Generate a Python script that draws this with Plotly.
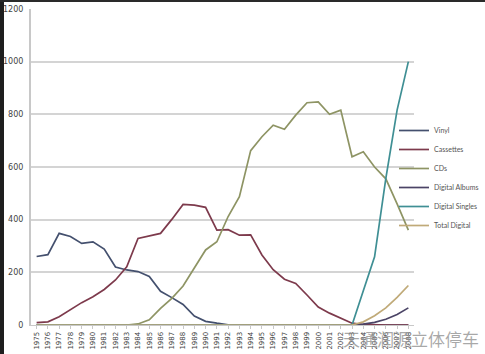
import plotly.graph_objects as go

years = [str(y) for y in range(1975, 2009)]

vinyl = [260, 267, 348, 336, 310, 316, 288, 220, 209, 203, 184, 128, 104, 78, 34, 14, 7, 1,
         0, 0, 0, 0, 0, 0, 0, 0, 0, 0, 0, 0, 0, 0, 0, 0]
cassettes = [9, 12, 31, 57, 85, 107, 135, 171, 221, 329, 339, 348, 401, 458, 455, 447, 360, 362,
             341, 342, 266, 210, 174, 158, 114, 68, 45, 26, 7, 2, 0, 0, 0, 0]
cds = [0, 0, 0, 0, 0, 0, 0, 0, 0, 4, 20, 63, 101, 148, 215, 285, 316, 412,
       487, 662, 715, 759, 743, 797, 844, 847, 800, 816, 639, 658, 600, 555, 460, 360]
digital_albums = [0] * 29 + [3, 10, 22, 40, 65]
digital_singles = [0] * 29 + [130, 259, 557, 816, 1000]
total_digital = [0] * 29 + [12, 35, 65, 105, 150]

series = [
    ("Vinyl", vinyl, "#44506e"),
    ("Cassettes", cassettes, "#7d3a4c"),
    ("CDs", cds, "#8e9464"),
    ("Digital Albums", digital_albums, "#4b4466"),
    ("Digital Singles", digital_singles, "#3f8f94"),
    ("Total Digital", total_digital, "#c0aa78"),
]

fig = go.Figure()
for name, vals, col in series:
    fig.add_trace(go.Scatter(x=years, y=vals, mode="lines", name=name,
                             line=dict(color=col, width=1.7)))

L, R, T, B = 31, 71, 9, 29
W, H = 485, 354
pw = W - L - R
ph = H - T - B

fig.update_layout(
    width=W, height=H,
    margin=dict(l=L, r=R, t=T, b=B, autoexpand=False),
    paper_bgcolor="white", plot_bgcolor="white",
    font=dict(family="DejaVu Sans, Arial", color="#444", size=8),
    showlegend=True,
    legend=dict(xref="container", yref="container", x=394 / W, y=1 - 178 / H,
                xanchor="left", yanchor="middle",
                font=dict(family="Lato", size=7, color="#555"), bgcolor="rgba(0,0,0,0)",
                tracegroupgap=0),
    xaxis=dict(type="category", range=[-0.5, 33.5], tickangle=-90,
               tickfont=dict(size=7, color="#444"), showgrid=False,
               showline=True, linecolor="#c8c8c8", linewidth=1,
               ticks="outside", ticklen=3, tickcolor="#c8c8c8", automargin=False),
    yaxis=dict(range=[0, 1200], dtick=200, showgrid=True, gridcolor="#d4d4d4", gridwidth=2,
               showline=True, linecolor="#c8c8c8", linewidth=2, zeroline=False,
               tickfont=dict(size=8, color="#444"), ticks="", ticklabelstandoff=4,
               automargin=False),
    shapes=[
        dict(type="rect", xref="paper", yref="paper", x0=-L / pw, x1=(4 - L) / pw,
             y0=-B / ph, y1=1 + T / ph, fillcolor="#1e1e1e", line=dict(width=0), layer="above"),
        dict(type="rect", xref="paper", yref="paper", x0=-L / pw, x1=1 + R / pw,
             y0=1 + (T - 2) / ph, y1=1 + T / ph, fillcolor="#2a2a2a", line=dict(width=0), layer="above"),
    ],
    annotations=[
        dict(text="天通润源立体停车", xref="paper", yref="paper",
             x=(481 - L) / pw, y=-(338 - 325) / ph, xanchor="right", yanchor="middle",
             showarrow=False, font=dict(family="Noto Sans CJK SC", size=17,
                                        color="rgba(140,140,140,0.75)")),
    ],
)

fig.write_html("out.html")
